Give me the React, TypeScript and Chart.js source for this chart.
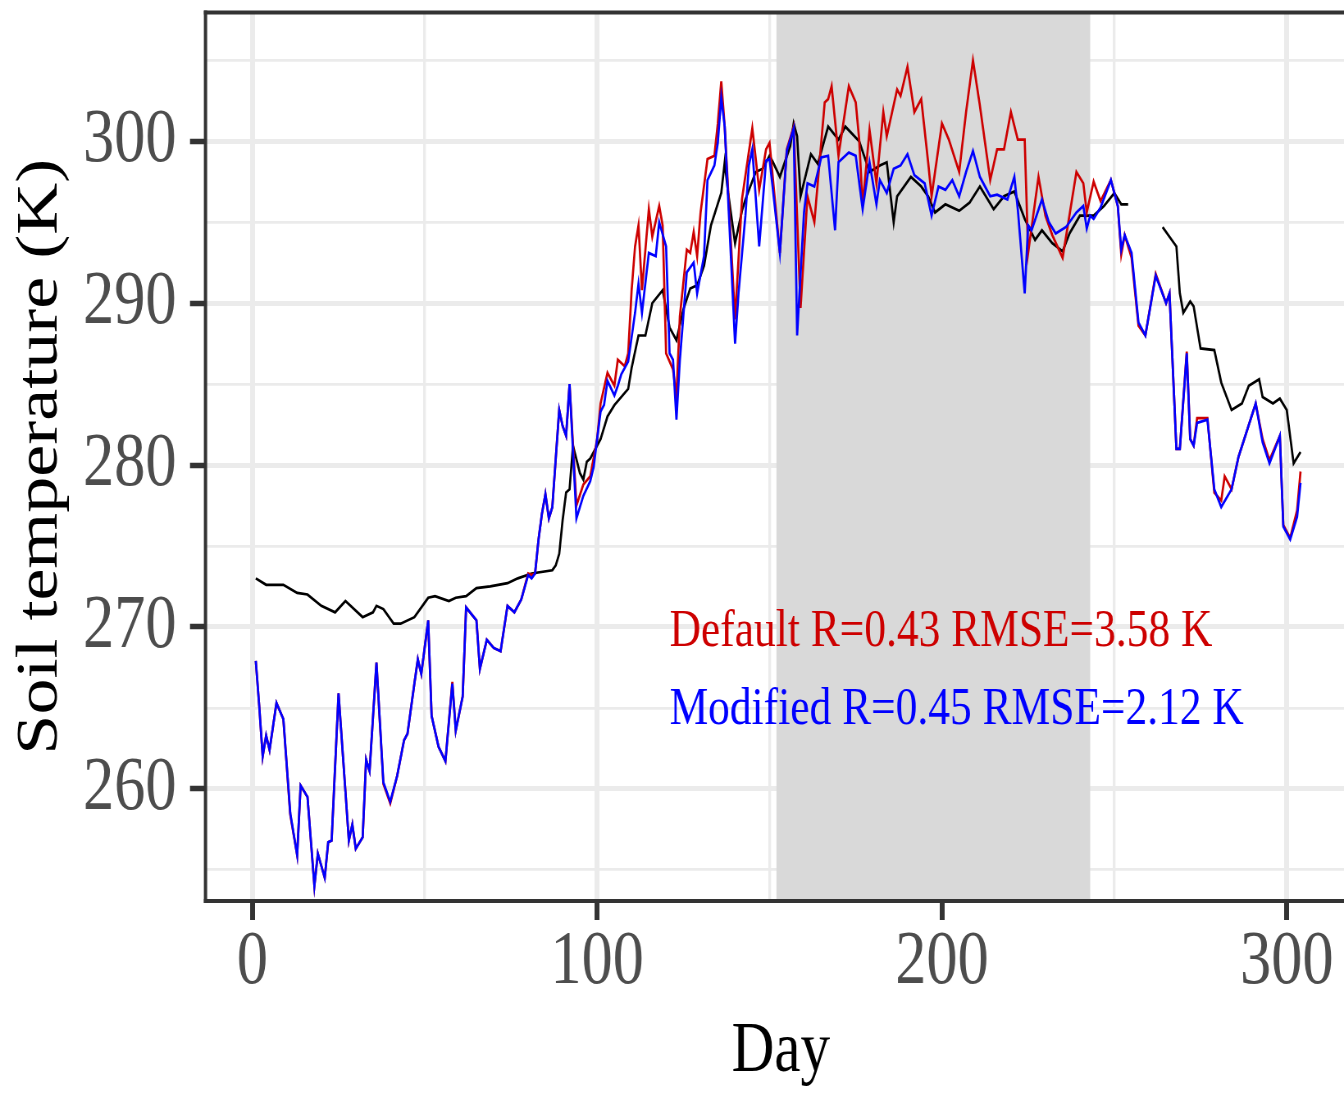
import React, { useEffect, useRef } from 'react';
import { Chart, registerables } from 'chart.js';

Chart.register(...registerables);

// ---------- data ----------
const observed: [number, number | null][] = [
  [1, 273.0], [4, 272.6], [9, 272.6], [13, 272.1], [16, 272.0], [20, 271.3], [24, 270.9], [27, 271.6],
  [32, 270.6], [35, 270.9], [36, 271.3], [38, 271.1], [41, 270.2], [43, 270.2], [47, 270.6], [51, 271.8],
  [53, 271.9], [57, 271.6], [59, 271.8], [62, 271.9], [65, 272.4], [69, 272.5], [74, 272.7], [77, 273.0],
  [81, 273.3], [87, 273.5], [88, 273.8], [89, 274.5], [90, 276.6], [91, 278.3], [92, 278.5], [93, 281.2],
  [95, 279.5], [96, 279.1], [97, 280.2], [98, 280.4], [101, 281.6], [103, 283.0], [105, 283.7], [109, 284.7],
  [110, 286.0], [112, 288.0], [114, 288.0], [116, 290.0], [119, 290.8], [121, 288.5], [123, 287.7], [125, 289.6],
  [127, 290.9], [129, 291.1], [131, 292.3], [133, 294.8], [136, 296.8], [137, 298.7], [138, 296.8], [140, 293.7],
  [142, 295.7], [143, 296.4], [146, 298.1], [148, 298.3], [150, 299.1], [151, 298.7], [153, 297.8], [156, 299.7],
  [157, 301.1], [158, 300.3], [159, 296.6], [162, 299.2], [164, 298.6], [167, 300.9], [170, 300.1], [172, 300.9],
  [176, 300.0], [179, 298.1], [182, 298.5], [184, 298.7], [186, 295.0], [187, 296.6], [191, 297.8], [194, 297.2],
  [196, 296.6], [198, 295.6], [201, 296.1], [205, 295.7], [208, 296.2], [211, 297.2], [215, 295.8], [218, 296.6],
  [221, 296.9], [224, 295.2], [227, 293.9], [229, 294.5], [232, 293.7], [235, 293.2], [237, 294.3], [240, 295.4],
  [244, 295.4], [247, 296.0], [250, 296.8], [252, 296.1], [254, 296.1], [259, null], [264, 294.7], [268, 293.5],
  [269, 290.6], [270, 289.4], [272, 290.1], [273, 289.8], [275, 287.2], [279, 287.1], [281, 285.1], [284, 283.4],
  [287, 283.8], [289, 284.9], [292, 285.3], [293, 284.2], [296, 283.8], [298, 284.1], [300, 283.4], [302, 280.1],
  [304, 280.8],
];

const modified: [number, number][] = [
  [1, 267.9], [2, 265.1], [3, 262.0], [4, 263.3], [5, 262.4], [7, 265.3], [9, 264.3], [11, 258.5],
  [13, 255.9], [14, 260.2], [16, 259.5], [18, 254.0], [19, 256.0], [21, 254.5], [22, 256.7], [23, 256.8],
  [25, 265.9], [28, 256.8], [29, 257.8], [30, 256.3], [32, 257.0], [33, 261.8], [34, 261.1], [36, 267.8],
  [38, 260.4], [40, 259.2], [42, 260.8], [44, 263.0], [45, 263.4], [47, 266.5], [48, 268.0], [49, 267.1],
  [51, 270.4], [52, 264.5], [54, 262.6], [56, 261.7], [58, 266.5], [59, 263.6], [61, 265.7], [62, 271.2],
  [65, 270.4], [66, 267.4], [68, 269.2], [70, 268.7], [72, 268.5], [74, 271.3], [76, 270.9], [78, 271.7],
  [80, 273.2], [81, 273.0], [82, 273.3], [83, 275.4], [84, 277.0], [85, 278.2], [86, 276.7], [87, 277.4],
  [89, 283.4], [90, 282.4], [91, 281.8], [92, 285.0], [94, 276.7], [96, 278.1], [98, 279.0], [99, 279.9],
  [101, 283.3], [102, 283.7], [103, 285.2], [105, 284.3], [106, 284.9], [107, 285.6], [109, 286.4], [110, 287.9],
  [111, 289.4], [112, 291.2], [113, 289.4], [115, 293.1], [117, 292.9], [118, 295.0], [120, 293.5], [121, 286.9],
  [122, 286.5], [123, 282.8], [124, 286.5], [126, 291.9], [128, 292.5], [129, 290.6], [131, 292.9], [132, 297.6],
  [134, 298.5], [135, 299.9], [136, 302.7], [137, 300.9], [140, 287.5], [141, 290.6], [143, 295.4], [144, 298.5],
  [145, 299.5], [147, 293.5], [149, 298.8], [150, 298.9], [153, 293.1], [155, 299.4], [157, 300.8], [158, 288.0],
  [160, 295.6], [161, 297.4], [163, 297.2], [165, 299.0], [167, 299.1], [169, 294.5], [170, 298.7], [173, 299.3],
  [175, 299.1], [177, 295.8], [179, 298.7], [181, 296.1], [182, 297.6], [184, 296.8], [186, 298.3], [188, 298.5],
  [190, 299.2], [192, 297.9], [195, 297.4], [197, 295.4], [199, 297.2], [201, 297.0], [203, 297.6], [205, 296.6],
  [207, 298.1], [209, 299.4], [211, 297.8], [214, 296.6], [216, 296.7], [219, 296.4], [221, 297.8], [222, 295.8],
  [224, 290.6], [225, 294.8], [226, 294.5], [229, 296.4], [231, 295.0], [233, 294.3], [236, 294.7], [239, 295.6],
  [241, 296.0], [242, 294.6], [243, 295.4], [244, 295.2], [246, 295.9], [249, 297.6], [251, 296.0], [252, 293.3],
  [253, 294.2], [255, 293.1], [257, 288.8], [259, 288.0], [262, 291.7], [265, 290.0], [266, 290.6], [268, 281.0],
  [269, 281.0], [271, 286.9], [272, 281.6], [273, 281.2], [274, 282.6], [277, 282.8], [279, 278.5], [281, 277.4],
  [284, 278.5], [286, 280.5], [291, 283.8], [293, 281.4], [295, 280.1], [298, 281.8], [299, 276.2], [301, 275.4],
  [303, 276.8], [304, 278.9],
];

const defaultRun: [number, number][] = [
  [1, 267.9], [2, 265.1], [3, 262.0], [4, 263.3], [5, 262.4], [7, 265.3], [9, 264.3], [11, 258.4],
  [13, 255.9], [14, 260.2], [16, 259.5], [18, 254.0], [19, 256.0], [21, 254.5], [22, 256.7], [23, 256.8],
  [25, 265.9], [28, 256.8], [29, 257.8], [30, 256.3], [32, 257.0], [33, 261.8], [34, 261.1], [36, 267.8],
  [38, 260.3], [40, 259.1], [42, 260.8], [44, 263.0], [45, 263.4], [47, 266.5], [48, 268.0], [49, 267.1],
  [51, 270.4], [52, 264.5], [54, 262.6], [56, 261.7], [58, 266.6], [59, 263.6], [61, 265.7], [62, 271.2],
  [65, 270.4], [66, 267.4], [68, 269.2], [70, 268.7], [72, 268.5], [74, 271.3], [76, 270.9], [78, 271.7],
  [80, 273.3], [81, 273.2], [82, 273.3], [83, 275.4], [84, 277.0], [85, 278.2], [86, 276.7], [87, 277.4],
  [89, 283.4], [90, 282.4], [91, 281.8], [92, 285.0], [94, 277.5], [96, 278.8], [98, 279.3], [100, 281.6],
  [101, 283.8], [103, 285.7], [105, 284.9], [106, 286.5], [108, 286.1], [109, 286.9], [110, 290.8], [111, 293.5],
  [112, 294.8], [113, 290.8], [115, 295.8], [116, 294.1], [118, 296.0], [119, 294.8], [120, 286.9], [122, 285.9],
  [123, 284.2], [124, 289.2], [126, 293.3], [127, 293.1], [128, 294.4], [129, 292.9], [130, 295.6], [132, 298.9],
  [134, 299.1], [135, 301.1], [136, 303.7], [137, 300.9], [140, 289.0], [142, 296.4], [145, 300.8], [147, 297.0],
  [149, 299.5], [150, 299.9], [153, 293.1], [155, 299.5], [157, 300.9], [159, 289.7], [161, 296.6], [163, 295.0],
  [166, 302.4], [167, 302.6], [168, 303.4], [170, 299.1], [173, 303.4], [175, 302.4], [176, 300.1], [177, 296.0],
  [179, 300.7], [181, 297.4], [183, 301.8], [184, 300.3], [187, 303.2], [188, 302.8], [190, 304.6], [192, 301.8],
  [194, 302.6], [196, 298.7], [197, 296.6], [200, 301.1], [202, 300.1], [205, 298.1], [207, 301.8], [209, 305.0],
  [211, 302.2], [214, 297.6], [216, 299.5], [218, 299.5], [220, 301.8], [222, 300.1], [224, 300.1], [225, 293.1],
  [228, 297.8], [230, 295.4], [232, 294.2], [235, 292.8], [239, 298.1], [241, 297.4], [242, 295.6], [244, 297.5],
  [246, 296.3], [249, 297.6], [251, 296.0], [252, 293.0], [253, 294.2], [255, 292.8], [257, 288.6], [259, 288.0],
  [262, 291.8], [265, 290.0], [266, 290.6], [268, 281.0], [269, 281.0], [271, 287.0], [272, 281.6], [273, 281.2],
  [274, 282.9], [277, 282.9], [279, 278.3], [281, 277.8], [282, 279.3], [284, 278.5], [286, 280.5], [291, 283.8],
  [293, 281.6], [295, 280.3], [298, 281.8], [299, 276.3], [301, 275.5], [303, 277.2], [304, 279.6],
];

const xTickValues = [0, 50, 100, 150, 200, 250, 300];
const yTickValues = [255, 260, 265, 270, 275, 280, 285, 290, 295, 300, 305];
const xRange = [-13.58, 320.1];
const yRange = [253.07, 307.95];
const summerDays = [152, 243];
const annotations = [
  { text: 'Default R=0.43 RMSE=3.58 K', color: '#CD0000', day: 121, temp: 268.79 },
  { text: 'Modified R=0.45 RMSE=2.12 K', color: '#0000FF', day: 121, temp: 264.0 },
];

// ---------- layout / style ----------
const SQUEEZE = 0.82;
const VIEW_W = 1344;
const VIEW_H = 1093;
const CANVAS_W = 1680;
const FONT = "'Liberation Serif', 'Times New Roman', serif";
const GRID = '#EBEBEB';
const DARK = '#333333';

const toPts = (arr: [number, number | null][]) => arr.map(([x, y]) => ({ x, y }));

const panelPlugin = {
  id: 'panelDecor',
  beforeDatasetsDraw(chart: any) {
    const { ctx, chartArea, scales } = chart;
    const x0 = scales.x.getPixelForValue(summerDays[0]);
    const x1 = scales.x.getPixelForValue(summerDays[1]);
    ctx.save();
    ctx.fillStyle = '#D9D9D9';
    ctx.fillRect(x0, chartArea.top, x1 - x0, chartArea.bottom - chartArea.top);
    ctx.restore();
  },
  afterDatasetsDraw(chart: any) {
    const { ctx, chartArea, scales } = chart;
    ctx.save();
    ctx.font = `53px ${FONT}`;
    ctx.textAlign = 'left';
    ctx.textBaseline = 'alphabetic';
    for (const a of annotations) {
      ctx.fillStyle = a.color;
      ctx.fillText(a.text, scales.x.getPixelForValue(a.day), scales.y.getPixelForValue(a.temp));
    }
    ctx.strokeStyle = DARK;
    ctx.lineCap = 'butt';
    ctx.lineWidth = 4;
    ctx.beginPath();
    ctx.moveTo(chartArea.left - 2, chartArea.top);
    ctx.lineTo(chartArea.right + 2, chartArea.top);
    ctx.moveTo(chartArea.left - 2, chartArea.bottom);
    ctx.lineTo(chartArea.right + 2, chartArea.bottom);
    ctx.stroke();
    ctx.beginPath();
    ctx.moveTo(chartArea.left, chartArea.top - 2);
    ctx.lineTo(chartArea.left, chartArea.bottom + 2);
    ctx.moveTo(chartArea.right, chartArea.top - 2);
    ctx.lineTo(chartArea.right, chartArea.bottom + 2);
    ctx.stroke();
    ctx.restore();
  },
};

const zeroPad = (s: any) => {
  s.paddingLeft = 0;
  s.paddingRight = 0;
  s.paddingTop = 0;
  s.paddingBottom = 0;
};

export default function App() {
  const ref = useRef<HTMLCanvasElement>(null);

  useEffect(() => {
    if (!ref.current) return;
    const isMajorX = (c: any) => !!c.tick && c.tick.value % 100 === 0;
    const isMajorY = (c: any) => !!c.tick && c.tick.value % 10 === 0;
    const chart = new Chart(ref.current, {
      type: 'line',
      data: {
        datasets: [
          { label: 'Modified', data: toPts(modified), borderColor: '#0000FF' },
          { label: 'Default', data: toPts(defaultRun), borderColor: '#CD0000' },
          { label: 'Observed', data: toPts(observed), borderColor: '#000000' },
        ].map((d) => ({ ...d, borderWidth: 2.7, pointRadius: 0, tension: 0, fill: false, spanGaps: false })),
      },
      options: {
        animation: false,
        responsive: true,
        maintainAspectRatio: false,
        layout: { padding: { top: 12.5, right: 26.3, bottom: 0, left: 0 } },
        plugins: { legend: { display: false }, tooltip: { enabled: false } },
        scales: {
          x: {
            type: 'linear',
            bounds: 'data',
            min: xRange[0],
            max: xRange[1],
            afterBuildTicks: (s: any) => {
              s.ticks = xTickValues.map((v) => ({ value: v }));
            },
            afterFit: (s: any) => {
              s.height = VIEW_H - 901;
              zeroPad(s);
            },
            ticks: {
              autoSkip: false,
              maxRotation: 0,
              minRotation: 0,
              padding: 4.6,
              color: '#4D4D4D',
              font: { family: FONT, size: 76, lineHeight: 1 },
              callback: (v: any) => (Number(v) % 100 === 0 ? String(v) : ''),
            },
            grid: {
              color: GRID,
              lineWidth: (c: any) => (isMajorX(c) ? 6 : 3.3),
              drawTicks: true,
              tickLength: 19,
              tickWidth: 6,
              tickColor: (c: any) => (isMajorX(c) ? DARK : 'rgba(0,0,0,0)'),
            },
            border: { display: false },
            title: {
              display: true,
              text: 'Day',
              color: '#000000',
              font: { family: FONT, size: 72, lineHeight: 1 },
              padding: { top: 0, bottom: 4.6 },
            },
          },
          y: {
            type: 'linear',
            bounds: 'data',
            min: yRange[0],
            max: yRange[1],
            afterBuildTicks: (s: any) => {
              s.ticks = yTickValues.map((v) => ({ value: v }));
            },
            afterFit: (s: any) => {
              s.width = 250.6;
              zeroPad(s);
            },
            ticks: {
              autoSkip: false,
              padding: 16.5,
              color: '#4D4D4D',
              font: { family: FONT, size: 76, lineHeight: 1 },
              callback: (v: any) => (Number(v) % 10 === 0 ? String(v) : ''),
            },
            grid: {
              color: GRID,
              lineWidth: (c: any) => (isMajorY(c) ? 5 : 2.7),
              drawTicks: true,
              tickLength: 18.9,
              tickWidth: 5.5,
              tickColor: (c: any) => (isMajorY(c) ? DARK : 'rgba(0,0,0,0)'),
            },
            border: { display: false },
            title: {
              display: true,
              text: 'Soil temperature (K)',
              color: '#000000',
              font: { family: FONT, size: 72, lineHeight: 1 },
              padding: { top: 14, bottom: 0 },
            },
          },
        },
      },
      plugins: [panelPlugin],
    } as any);
    return () => chart.destroy();
  }, []);

  return (
    <div
      style={{
        position: 'absolute',
        left: 0,
        top: 0,
        width: VIEW_W,
        height: VIEW_H,
        overflow: 'hidden',
        background: '#ffffff',
      }}
    >
      <div
        style={{
          position: 'relative',
          width: CANVAS_W,
          height: VIEW_H,
          transform: `scaleX(${SQUEEZE})`,
          transformOrigin: '0 0',
        }}
      >
        <canvas ref={ref} />
      </div>
    </div>
  );
}
